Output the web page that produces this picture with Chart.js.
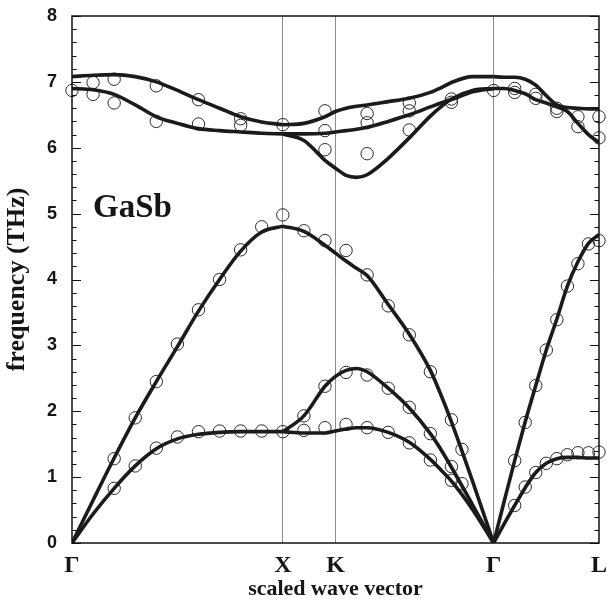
<!DOCTYPE html>
<html><head><meta charset="utf-8">
<script src="https://cdn.jsdelivr.net/npm/chart.js@4.4.1/dist/chart.umd.min.js"></script>
<style>html,body{margin:0;padding:0;background:#fff}#wrap{width:607px;height:603px}</style>
</head><body><div id="wrap"><canvas id="c" width="607" height="603"></canvas></div>
<script>
// symmetry points along the path (scaled wave vector)
const pointLabels = ['Γ', 'X', 'K', 'Γ', 'L'];
const pointPositions = [0, 1, 1.25, 2, 2.5];
const innerLines = [1, 1.25, 2];

// calculated dispersion curves (THz)
const qGX = [0, 0.1, 0.2, 0.3, 0.4, 0.5, 0.6, 0.7, 0.8, 0.9, 1.0];
const gxLA = [0, 0.65, 1.29, 1.90, 2.45, 2.98, 3.52, 4.00, 4.43, 4.72, 4.81];
const gxTA = [0, 0.44, 0.83, 1.17, 1.43, 1.58, 1.65, 1.68, 1.69, 1.69, 1.69];
const gxLO = [7.08, 7.10, 7.11, 7.08, 7.00, 6.87, 6.73, 6.60, 6.47, 6.39, 6.35];
const gxTO = [6.90, 6.88, 6.81, 6.65, 6.47, 6.37, 6.29, 6.26, 6.24, 6.22, 6.21];

const qXKG = [1.0, 1.1, 1.2, 1.25, 1.3, 1.35, 1.4, 1.5, 1.6, 1.7, 1.75, 1.8, 1.9, 2.0];
const xkgOpt1 = [6.35, 6.37, 6.47, 6.55, 6.60, 6.63, 6.65, 6.70, 6.75, 6.84, 6.91, 6.99, 7.08, 7.08];
const xkgOpt2 = [6.21, 6.21, 6.22, 6.24, 6.26, 6.28, 6.31, 6.40, 6.50, 6.62, 6.68, 6.73, 6.85, 6.90];
const xkgOpt3 = [6.21, 6.11, 5.81, 5.69, 5.58, 5.55, 5.59, 5.84, 6.15, 6.48, 6.62, 6.74, 6.87, 6.90];
const xkgAc1 = [4.81, 4.73, 4.52, 4.40, 4.28, 4.17, 4.06, 3.62, 3.17, 2.62, 2.25, 1.84, 0.94, 0];
const xkgAc2 = [1.69, 1.93, 2.38, 2.53, 2.62, 2.65, 2.60, 2.35, 2.05, 1.66, 1.42, 1.15, 0.58, 0];
const xkgAc3 = [1.69, 1.67, 1.67, 1.70, 1.73, 1.75, 1.75, 1.68, 1.53, 1.27, 1.11, 0.94, 0.51, 0];

const qGL = [2.0, 2.05, 2.1, 2.15, 2.2, 2.25, 2.3, 2.35, 2.4, 2.45, 2.5];
const glLA = [0, 0.63, 1.25, 1.84, 2.39, 2.93, 3.40, 3.90, 4.27, 4.55, 4.68];
const glTA = [0, 0.29, 0.57, 0.84, 1.07, 1.21, 1.28, 1.30, 1.30, 1.29, 1.29];
const glLO = [7.08, 7.07, 7.07, 7.04, 6.95, 6.79, 6.65, 6.61, 6.60, 6.59, 6.59];
const glTO = [6.90, 6.90, 6.87, 6.82, 6.73, 6.68, 6.62, 6.55, 6.37, 6.20, 6.08];

// measured points (open circles)
const expQ = [
  0, 0.1, 0.1, 0.2, 0.2, 0.4, 0.4, 0.6, 0.6, 0.8, 0.8, 1.0,
  0.2, 0.3, 0.4, 0.5, 0.6, 0.7, 0.8, 0.9, 1.0,
  0.2, 0.3, 0.4, 0.5, 0.6, 0.7, 0.8, 0.9, 1.0,
  1.2, 1.2, 1.2, 1.4, 1.4, 1.4, 1.6, 1.6, 1.6, 1.8, 1.8, 2.0,
  1.1, 1.2, 1.3, 1.4, 1.5, 1.6, 1.7, 1.8, 1.85,
  1.1, 1.2, 1.3, 1.4, 1.5, 1.6, 1.7, 1.8, 1.85,
  1.1, 1.2, 1.3, 1.4, 1.5, 1.6, 1.7, 1.8,
  2.1, 2.1, 2.2, 2.2, 2.3, 2.3, 2.4, 2.4, 2.5, 2.5,
  2.1, 2.15, 2.2, 2.25, 2.3, 2.35, 2.4, 2.45, 2.5,
  2.1, 2.15, 2.2, 2.25, 2.3, 2.35, 2.4, 2.45, 2.5
];
const expFreq = [
  6.87, 6.99, 6.81, 7.04, 6.68, 6.94, 6.40, 6.73, 6.36, 6.44, 6.34, 6.35,
  1.28, 1.90, 2.45, 3.02, 3.54, 4.00, 4.45, 4.80, 4.98,
  0.83, 1.17, 1.44, 1.61, 1.69, 1.70, 1.70, 1.70, 1.69,
  6.56, 6.26, 5.97, 6.52, 6.38, 5.91, 6.68, 6.56, 6.27, 6.74, 6.69, 6.87,
  4.74, 4.59, 4.44, 4.07, 3.60, 3.16, 2.60, 1.87, 1.42,
  1.93, 2.38, 2.59, 2.55, 2.35, 2.06, 1.66, 1.16, 0.90,
  1.71, 1.75, 1.80, 1.75, 1.68, 1.52, 1.26, 0.95,
  6.90, 6.84, 6.81, 6.75, 6.60, 6.55, 6.47, 6.32, 6.47, 6.15,
  1.25, 1.83, 2.39, 2.93, 3.39, 3.90, 4.24, 4.54, 4.59,
  0.57, 0.85, 1.07, 1.21, 1.28, 1.34, 1.37, 1.37, 1.38
];

const SERIF = '"Liberation Serif", "Times New Roman", serif';
const SANS = '"Liberation Sans", Arial, sans-serif';
const LINE = '#1b1b1b';

function curve(qs, fs) {
  return {
    type: 'line',
    data: qs.map((q, i) => ({x: q, y: fs[i]})),
    borderColor: LINE, borderWidth: 3.6, pointRadius: 0,
    cubicInterpolationMode: 'monotone', fill: false,
    borderCapStyle: 'butt', borderJoinStyle: 'round'
  };
}

const datasets = [
  curve(qGX, gxLA), curve(qGX, gxTA), curve(qGX, gxLO), curve(qGX, gxTO),
  curve(qXKG, xkgOpt1), curve(qXKG, xkgOpt2), curve(qXKG, xkgOpt3),
  curve(qXKG, xkgAc1), curve(qXKG, xkgAc2), curve(qXKG, xkgAc3),
  curve(qGL, glLA), curve(qGL, glTA), curve(qGL, glLO), curve(qGL, glTO),
  {
    type: 'scatter',
    data: expQ.map((q, i) => ({x: q, y: expFreq[i]})),
    showLine: false, pointStyle: 'circle', pointRadius: 6.2,
    borderColor: '#2a2a2a', borderWidth: 1, backgroundColor: 'rgba(0,0,0,0)',
    clip: false
  }
];

const framePlugin = {
  id: 'frame',
  afterDatasetsDraw(chart) {
    const {ctx, chartArea: a, scales: {x, y}} = chart;
    ctx.save();
    ctx.strokeStyle = '#111';
    ctx.lineWidth = 1;
    for (let i = 0; i <= 40; i++) {
      const v = y.min + (y.max - y.min) * i / 40;
      const major = i % 5 === 0;
      const len = major ? 9 : 4.5;
      const py = Math.round(y.getPixelForValue(v)) + 0.5;
      ctx.beginPath();
      ctx.moveTo(a.left, py); ctx.lineTo(a.left + len, py);
      ctx.moveTo(a.right, py); ctx.lineTo(a.right - len, py);
      ctx.stroke();
    }
    ctx.lineWidth = 1.5;
    ctx.strokeRect(a.left, a.top, a.right - a.left, a.bottom - a.top);
    ctx.fillStyle = '#151515';
    ctx.font = 'bold 33px ' + SERIF;
    ctx.textAlign = 'left';
    ctx.textBaseline = 'alphabetic';
    ctx.fillText('GaSb', x.getPixelForValue(0.1), y.getPixelForValue(4.95));
    ctx.restore();
  }
};

new Chart(document.getElementById('c'), {
  data: {datasets},
  options: {
    responsive: false, animation: false, devicePixelRatio: 1,
    layout: {padding: {top: 16, right: 8, left: 0, bottom: 0}},
    plugins: {legend: {display: false}, tooltip: {enabled: false}},
    scales: {
      x: {
        type: 'linear', min: 0, max: 2.5,
        afterBuildTicks: s => { s.ticks = pointPositions.map(v => ({value: v})); },
        afterFit: s => { s.height = 60; s.paddingLeft = 0; s.paddingRight = 0; },
        ticks: {
          autoSkip: false, maxRotation: 0, padding: 8, color: '#151515',
          font: {family: SERIF, size: 24, weight: 'bold'},
          callback: v => pointLabels[pointPositions.indexOf(v)]
        },
        grid: {
          drawTicks: false, lineWidth: 1,
          color: c => (c.tick && innerLines.includes(c.tick.value)) ? '#8c8c8c' : 'rgba(0,0,0,0)'
        },
        border: {display: false},
        title: {
          display: true, text: 'scaled wave vector', color: '#151515',
          font: {family: SERIF, size: 22, weight: 'bold'},
          padding: {top: 0, bottom: 0}
        }
      },
      y: {
        type: 'linear', min: 0, max: 8,
        afterFit: s => { s.width = 72; s.paddingTop = 0; s.paddingBottom = 0; },
        ticks: {
          stepSize: 1, padding: 15, color: '#151515',
          font: {family: SANS, size: 18, weight: 'bold'}
        },
        grid: {display: false, drawTicks: false},
        border: {display: false},
        title: {
          display: true, text: 'frequency (THz)', color: '#151515',
          font: {family: SERIF, size: 26, weight: 'bold'},
          padding: {top: 2, bottom: 0}
        }
      }
    }
  },
  plugins: [framePlugin]
});
</script></body></html>
